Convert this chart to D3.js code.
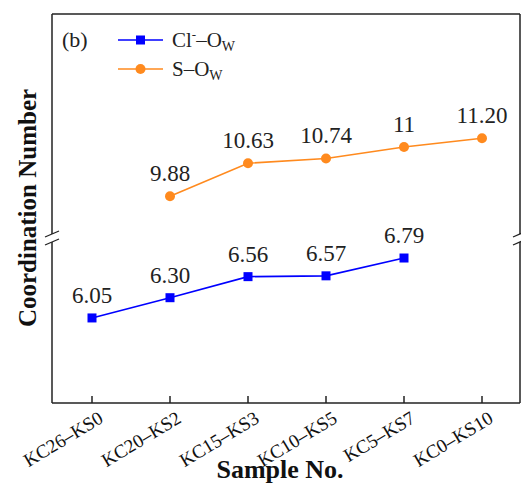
<!DOCTYPE html>
<html>
<head>
<meta charset="utf-8">
<script src="https://cdn.jsdelivr.net/npm/d3@7"></script>
<style>
  body { margin: 0; background: #fff; }
</style>
</head>
<body>
<div id="chart"></div>
<script>
const samples = ["KC26\u2013KS0", "KC20\u2013KS2", "KC15\u2013KS3", "KC10\u2013KS5", "KC5\u2013KS7", "KC0\u2013KS10"];
const clValues = [6.05, 6.30, 6.56, 6.57, 6.79, null];
const sValues = [null, 9.88, 10.63, 10.74, 11, 11.20];
const clLabels = ["6.05", "6.30", "6.56", "6.57", "6.79", ""];
const sLabels = ["", "9.88", "10.63", "10.74", "11", "11.20"];

const width = 521, height = 486;
const plotLeft = 52, plotRight = 520, plotTop = 14, plotBottom = 403;
const blue = "#0000ff", orange = "#ff8a1e";
const serif = "'Liberation Serif', 'Times New Roman', 'DejaVu Serif', serif";

const svg = d3.select("#chart").append("svg")
  .attr("width", width)
  .attr("height", height)
  .attr("font-family", serif);

const x = d3.scalePoint()
  .domain(samples)
  .range([92, 482]);

// broken y axis: two segments with their own scales
const yLow = d3.scaleLinear().domain([5, 7]).range([plotBottom, 241]);
const yHigh = d3.scaleLinear().domain([9, 14]).range([235, 15]);

// frame
const breakY = 238;
svg.append("line").attr("x1", plotLeft).attr("x2", plotRight).attr("y1", plotTop).attr("y2", plotTop)
  .attr("stroke", "#222").attr("stroke-width", 1.5);
svg.append("line").attr("x1", plotLeft).attr("x2", plotRight).attr("y1", plotBottom).attr("y2", plotBottom)
  .attr("stroke", "#222").attr("stroke-width", 1.5);
[plotLeft, plotRight].forEach(xx => {
  svg.append("line").attr("x1", xx).attr("x2", xx).attr("y1", plotTop).attr("y2", breakY - 4)
    .attr("stroke", "#222").attr("stroke-width", 1.5);
  svg.append("line").attr("x1", xx).attr("x2", xx).attr("y1", breakY + 4).attr("y2", plotBottom)
    .attr("stroke", "#222").attr("stroke-width", 1.5);
  [-4, 4].forEach(dy => {
    svg.append("line")
      .attr("x1", xx - 7).attr("x2", xx + 7)
      .attr("y1", breakY + dy + 3).attr("y2", breakY + dy - 3)
      .attr("stroke", "#222").attr("stroke-width", 1.3);
  });
});

// x axis ticks (inward) and rotated labels
const xAxis = svg.append("g");
xAxis.selectAll("line.tick")
  .data(samples)
  .enter()
  .append("line")
  .attr("x1", d => x(d)).attr("x2", d => x(d))
  .attr("y1", plotBottom).attr("y2", plotBottom - 7)
  .attr("stroke", "#222").attr("stroke-width", 1.5);

xAxis.selectAll("text")
  .data(samples)
  .enter()
  .append("text")
  .attr("transform", d => `translate(${x(d) + 9}, ${plotBottom + 13}) rotate(-31)`)
  .attr("text-anchor", "end")
  .attr("dy", "0.35em")
  .style("font-size", "19px")
  .style("fill", "#111")
  .text(d => d);

// series
function drawSeries(values, labels, scale, color, shape) {
  const pts = samples.map((s, i) => ({ s, v: values[i], label: labels[i] })).filter(d => d.v != null);
  svg.append("path")
    .datum(pts)
    .attr("fill", "none")
    .attr("stroke", color)
    .attr("stroke-width", 1.6)
    .attr("d", d3.line().x(d => x(d.s)).y(d => scale(d.v)));

  if (shape === "square") {
    svg.selectAll(null).data(pts).enter().append("rect")
      .attr("x", d => x(d.s) - 4.5).attr("y", d => scale(d.v) - 4.5)
      .attr("width", 9).attr("height", 9)
      .attr("fill", color);
  } else {
    svg.selectAll(null).data(pts).enter().append("circle")
      .attr("cx", d => x(d.s)).attr("cy", d => scale(d.v))
      .attr("r", 5)
      .attr("fill", color);
  }

  svg.selectAll(null).data(pts).enter().append("text")
    .attr("x", d => x(d.s))
    .attr("y", d => scale(d.v) - 15)
    .attr("text-anchor", "middle")
    .style("font-size", "23px")
    .style("fill", "#222")
    .text(d => d.label);
}

drawSeries(clValues, clLabels, yLow, blue, "square");
drawSeries(sValues, sLabels, yHigh, orange, "circle");

// panel label
svg.append("text")
  .attr("x", 62).attr("y", 47)
  .style("font-size", "22px")
  .style("fill", "#222")
  .text("(b)");

// legend
const legend = [
  { name: "Cl", sup: "-", rest: "\u2013O", sub: "W", color: blue, shape: "square" },
  { name: "S", sup: "", rest: "\u2013O", sub: "W", color: orange, shape: "circle" }
];
legend.forEach((d, i) => {
  const ly = 40 + i * 29;
  svg.append("line").attr("x1", 118).attr("x2", 163).attr("y1", ly).attr("y2", ly)
    .attr("stroke", d.color).attr("stroke-width", 1.6);
  if (d.shape === "square") {
    svg.append("rect").attr("x", 136).attr("y", ly - 4.5).attr("width", 9).attr("height", 9).attr("fill", d.color);
  } else {
    svg.append("circle").attr("cx", 140.5).attr("cy", ly).attr("r", 5).attr("fill", d.color);
  }
  const t = svg.append("text")
    .attr("x", 172).attr("y", ly + 7)
    .style("font-size", "21px")
    .style("fill", "#222");
  t.append("tspan").text(d.name);
  if (d.sup) t.append("tspan").attr("dy", -8).style("font-size", "13px").text(d.sup);
  t.append("tspan").attr("dy", d.sup ? 8 : 0).text(d.rest);
  t.append("tspan").attr("dy", 4).style("font-size", "14px").text(d.sub);
});

// axis titles
svg.append("text")
  .attr("transform", `translate(36, 208) rotate(-90)`)
  .attr("text-anchor", "middle")
  .style("font-size", "25px")
  .style("font-weight", "bold")
  .style("fill", "#111")
  .text("Coordination Number");

svg.append("text")
  .attr("x", 280).attr("y", 478)
  .attr("text-anchor", "middle")
  .style("font-size", "26px")
  .style("font-weight", "bold")
  .style("fill", "#111")
  .text("Sample No.");
</script>
</body>
</html>
